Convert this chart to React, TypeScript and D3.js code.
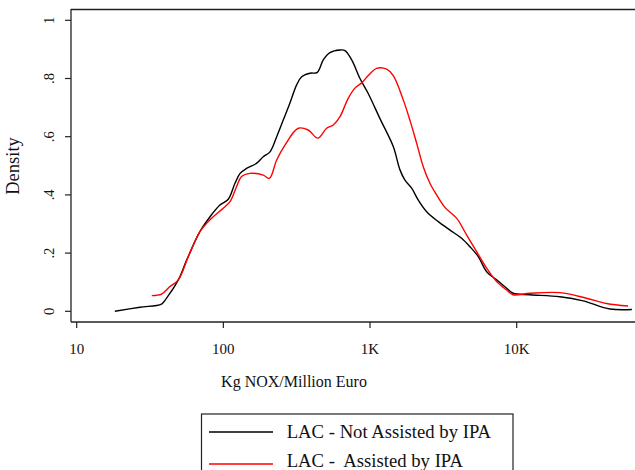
import React from "react";
import * as d3 from "d3";

const notAssistedX = [18.2, 27.0, 37.9, 41.0, 49.3, 56.2, 69.2, 81.1, 94.8, 108, 120, 130, 144, 169, 187, 208, 231, 256, 284, 316, 342, 389, 437, 480, 533, 624, 675, 750, 854, 968, 1169, 1440, 1600, 1730, 1923, 2133, 2434, 2920, 3508, 4210, 4800, 5470, 6240, 7300, 8540, 9460, 12300, 19700, 28400, 43200, 61000];
const notAssistedY = [0.0, 0.014, 0.025, 0.045, 0.108, 0.176, 0.274, 0.325, 0.365, 0.385, 0.44, 0.474, 0.491, 0.509, 0.531, 0.548, 0.6, 0.657, 0.715, 0.778, 0.806, 0.818, 0.821, 0.864, 0.889, 0.898, 0.896, 0.864, 0.8, 0.75, 0.662, 0.566, 0.486, 0.451, 0.423, 0.382, 0.342, 0.308, 0.279, 0.251, 0.222, 0.188, 0.136, 0.108, 0.079, 0.062, 0.057, 0.05, 0.036, 0.008, 0.006];

const assistedX = [32.5, 37.9, 43.2, 49.3, 57.7, 69.2, 83.2, 99.8, 111, 123, 133, 152, 187, 206, 231, 263, 324, 379, 440, 506, 561, 624, 710, 789, 877, 973, 1110, 1298, 1440, 1675, 1870, 2080, 2306, 2560, 2843, 3240, 3890, 4560, 5330, 6240, 7300, 8540, 9420, 12300, 19700, 29900, 41000, 57500];
const assistedY = [0.054, 0.059, 0.085, 0.108, 0.188, 0.274, 0.32, 0.354, 0.377, 0.428, 0.463, 0.474, 0.468, 0.457, 0.52, 0.571, 0.629, 0.623, 0.595, 0.629, 0.64, 0.669, 0.732, 0.767, 0.785, 0.81, 0.835, 0.832, 0.81, 0.73, 0.657, 0.577, 0.497, 0.44, 0.4, 0.357, 0.32, 0.262, 0.205, 0.148, 0.102, 0.073, 0.057, 0.062, 0.064, 0.045, 0.027, 0.018];

const xTicks = [10, 100, 1000, 10000];
const xTickLabels = ["10", "100", "1K", "10K"];
const yTicks = [0, 0.2, 0.4, 0.6, 0.8, 1];
const yTickLabels = ["0", ".2", ".4", ".6", ".8", "1"];
const seriesNames = ["LAC - Not Assisted by IPA", "LAC -  Assisted by IPA"];
const seriesColors = ["#000000", "#ff0000"];

const FONT = "'Liberation Serif', 'Times New Roman', serif";

export default function App() {
  const left = 71, top = 10, right = 635, bottom = 322;
  const x = d3.scaleLog().domain([10, 10000]).range([76.7, 516.7]);
  const y = d3.scaleLinear().domain([0, 1]).range([311.3, 20.3]);
  const line = d3
    .line<[number, number]>()
    .x((d) => x(d[0]))
    .y((d) => y(d[1]))
    .curve(d3.curveCatmullRom.alpha(0.5));
  const s1 = notAssistedX.map((v, i) => [v, notAssistedY[i]] as [number, number]);
  const s2 = assistedX.map((v, i) => [v, assistedY[i]] as [number, number]);
  const axisColor = "#222";
  return (
    <svg width={635} height={470} style={{ position: "absolute", left: 0, top: 0, background: "#fff" }} fontFamily={FONT}>
      <defs>
        <clipPath id="plotclip">
          <rect x={left} y={top} width={right - left} height={bottom - top} />
        </clipPath>
      </defs>
      <rect x={0} y={0} width={635} height={470} fill="#fff" />
      <line x1={left} x2={right} y1={9.5} y2={9.5} stroke={axisColor} strokeWidth={1.3} />
      <line x1={left} x2={left} y1={9} y2={bottom} stroke={axisColor} strokeWidth={1.3} />
      <line x1={left} x2={right} y1={bottom} y2={bottom} stroke={axisColor} strokeWidth={1.3} />
      {yTicks.map((t, i) => (
        <g key={"y" + i}>
          <line x1={left - 6} x2={left} y1={y(t)} y2={y(t)} stroke={axisColor} strokeWidth={1.2} />
          <text
            transform={`translate(54,${y(t)}) rotate(-90)`}
            textAnchor="middle"
            fontSize={14.5}
            fill="#111"
          >
            {yTickLabels[i]}
          </text>
        </g>
      ))}
      {xTicks.map((t, i) => (
        <g key={"x" + i}>
          <line x1={x(t)} x2={x(t)} y1={bottom} y2={bottom + 6} stroke={axisColor} strokeWidth={1.2} />
          <text x={x(t)} y={353.5} textAnchor="middle" fontSize={15} fill="#111">
            {xTickLabels[i]}
          </text>
        </g>
      ))}
      <text transform="translate(18.5,166) rotate(-90)" textAnchor="middle" fontSize={18.5} fill="#111">
        Density
      </text>
      <text x={294} y={386.5} textAnchor="middle" fontSize={16} fill="#111">
        Kg NOX/Million Euro
      </text>
      <g clipPath="url(#plotclip)">
        <path d={line(s1) || ""} fill="none" stroke={seriesColors[0]} strokeWidth={1.4} />
        <path d={line(s2) || ""} fill="none" stroke={seriesColors[1]} strokeWidth={1.4} />
      </g>
      <rect x={201.5} y={414} width={311.5} height={70} fill="#fff" stroke={axisColor} strokeWidth={1.2} />
      {seriesNames.map((n, i) => (
        <g key={"l" + i}>
          <line x1={209} x2={273} y1={432 + i * 32} y2={432 + i * 32} stroke={seriesColors[i]} strokeWidth={1.4} />
          <text x={286.7} y={437.5 + i * 29.5} fontSize={18.7} fill="#111" style={{ whiteSpace: "pre" }}>
            {n}
          </text>
        </g>
      ))}
    </svg>
  );
}
